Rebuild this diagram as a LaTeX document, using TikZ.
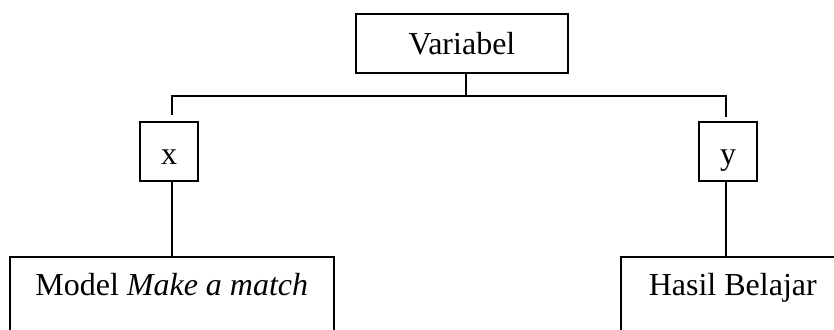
\documentclass[tikz,border=0pt]{standalone}
\usepackage{fontspec}
\setmainfont{Liberation Serif}
\begin{document}
\begin{tikzpicture}[x=1pt,y=-1pt,
  every node/.style={font=\fontsize{32}{38}\selectfont},
  box/.style={draw, line width=1.5pt, rectangle, inner sep=0pt},
  smallbox/.style={box, minimum width=58pt, minimum height=59pt, text height=25pt, text depth=0pt},
  wide/.style={box, anchor=north west, text height=39pt, text depth=90pt},
  conn/.style={line width=1.5pt}]
\useasboundingbox (0,0) rectangle (834,329);
\clip (0,0) rectangle (834,329);
\node[box, minimum width=212pt, minimum height=59pt] (v) at (462,43.5) {Variabel};
\node[smallbox] (bx) at (169,151.5) {x};
\node[smallbox] (by) at (728,151.5) {y};
\node[wide, minimum width=324pt] (ml) at (9,256) {Model \textit{Make a match}};
\node[wide, minimum width=224pt] (hb) at (620,256) {Hasil Belajar};
\coordinate (hubV) at (466,96);
\coordinate (hubL) at (172,96);
\coordinate (hubR) at (726,96);
\coordinate (dL) at (172,115);
\coordinate (dR) at (726,117);
\draw[conn] (v.south -| hubV) -- (hubV);
\draw[conn] (dL) -- (hubL) -- (hubR) -- (dR);
\draw[conn] (bx.south -| hubL) -- (ml.north -| hubL);
\draw[conn] (by.south -| hubR) -- (hb.north -| hubR);
\end{tikzpicture}
\end{document}
